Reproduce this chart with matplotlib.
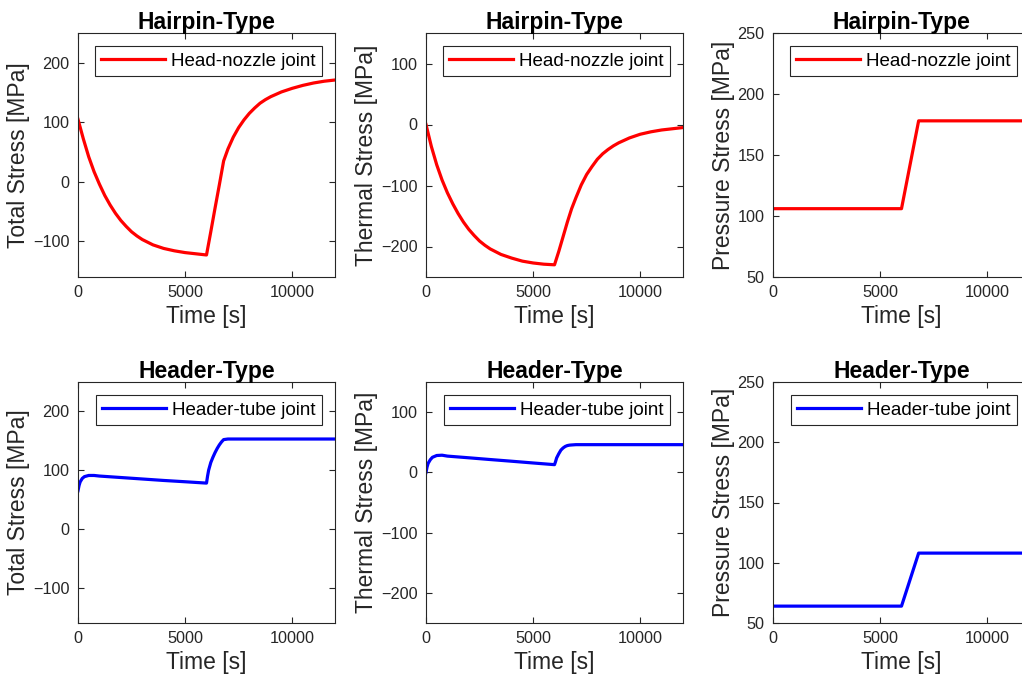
import numpy as np
import matplotlib
matplotlib.use("Agg")
import matplotlib.pyplot as plt

plt.rcParams['font.family'] = ['Liberation Sans', 'DejaVu Sans']

# hairpin-type: head-nozzle joint
t_hairpin = [0, 250, 500, 750, 1000, 1250, 1500, 1750, 2000, 2250, 2500, 2750, 3000,
             3500, 4000, 4500, 5000, 5500, 6000,
             6200, 6400, 6600, 6800, 7000,
             7250, 7500, 7750, 8000, 8250, 8500, 8750, 9000,
             9500, 10000, 10500, 11000, 11500, 12000]
total_hairpin = [105, 72, 42, 17, -4, -23, -39, -53, -65, -75, -84, -91, -97,
                 -106, -112, -116, -119, -121, -123,
                 -84, -44, -5, 35, 55,
                 75, 91, 104, 115, 124, 132, 138, 143,
                 151, 157, 162, 166, 169, 171]
thermal_hairpin = [0, -36, -66, -91, -112, -130, -146, -160, -172, -182, -191, -198, -204,
                   -213, -219, -224, -227, -229, -230,
                   -208, -184, -160, -138, -120,
                   -99, -82, -69, -57, -48, -41, -35, -30,
                   -22, -16, -12, -9, -7, -5]
t_press_hairpin = [0, 6000, 6800, 12000]
press_hairpin = [106, 106, 178, 178]

# header-type: header-tube joint
t_header = [0, 50, 100, 200, 300, 500, 750, 1000, 2000, 3000, 4000, 5000, 6000,
            6050, 6100, 6200, 6300, 6400, 6500, 6600, 6700, 6800, 7000, 8000,
            9000, 10000, 11000, 12000]
total_header = [65, 74, 80, 86, 89, 91, 91, 90, 87.5, 85, 82.5, 80.3, 78,
                90, 100, 113, 122, 130, 137, 143, 148, 152, 153, 153,
                153, 153, 153, 153]
thermal_header = [0, 9, 15, 21, 25, 28, 28.5, 27, 24.2, 21.3, 18.5, 15.6, 12.8,
                  18, 24, 31, 37, 40.5, 43, 44.5, 45.2, 45.5, 46, 46,
                  46, 46, 46, 46]
t_press_header = [0, 6000, 6800, 12000]
press_header = [64, 64, 108, 108]

ylabels = ['Total Stress [MPa]', 'Thermal Stress [MPa]', 'Pressure Stress [MPa]']
ylims = [(-160, 250), (-250, 150), (50, 250)]
yticks = [[-100, 0, 100, 200], [-200, -100, 0, 100], [50, 100, 150, 200, 250]]

rows = [
    ('Hairpin-Type', 'Head-nozzle joint', (1, 0, 0),
     [(t_hairpin, total_hairpin), (t_hairpin, thermal_hairpin), (t_press_hairpin, press_hairpin)]),
    ('Header-Type', 'Header-tube joint', (0, 0, 1),
     [(t_header, total_header), (t_header, thermal_header), (t_press_header, press_header)]),
]

W, H = 1022, 680
fig = plt.figure(figsize=(W / 100, H / 100), dpi=100)

# axes boxes in pixels; the third column runs past the right edge
lefts = [78, 426, 773]
tops = [33, 382]
bottoms = [277, 623]
ax_w = 257
dark = (0.15, 0.15, 0.15)

for r, (title, label, color, series) in enumerate(rows):
    for c in range(3):
        ax = fig.add_axes([lefts[c] / W, 1 - bottoms[r] / H, ax_w / W, (bottoms[r] - tops[r]) / H])
        t, y = series[c]
        ax.plot(t, y, color=color, lw=2.3, label=label)
        ax.set_xlim(0, 12000)
        ax.set_ylim(*ylims[c])
        ax.set_xticks([0, 5000, 10000])
        ax.set_yticks(yticks[c])
        ax.tick_params(direction='in', length=4, width=0.8, top=True, right=True,
                       labelsize=11.7, colors=dark, labelcolor=dark, pad=6)
        for sp in ax.spines.values():
            sp.set_color(dark)
            sp.set_linewidth(0.8)
        ax.set_title(title, fontsize=16.5, fontweight='bold', pad=3)
        ax.set_xlabel('Time [s]', fontsize=16.5, color=dark, labelpad=3)
        ax.set_ylabel(ylabels[c], fontsize=16.5, color=dark, labelpad=2)
        leg = ax.legend(loc='upper right', fontsize=13.5, handlelength=3.4,
                        handletextpad=0.3, borderpad=0.35, borderaxespad=0.7,
                        fancybox=False, framealpha=1)
        leg.get_frame().set_edgecolor(dark)
        leg.get_frame().set_linewidth(0.8)

fig.savefig('out.png', dpi=100)
